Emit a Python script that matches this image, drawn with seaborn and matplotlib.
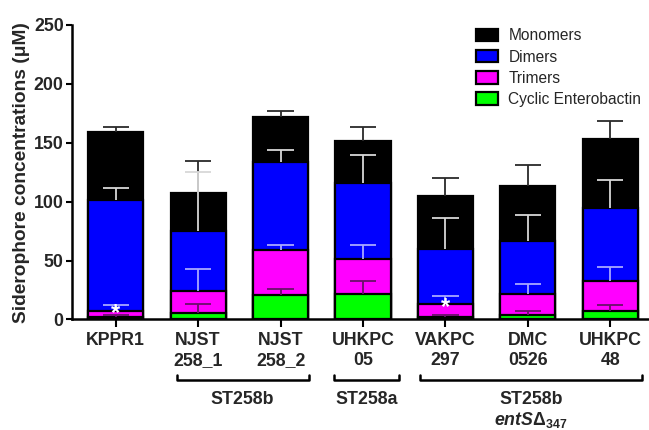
import numpy as np
import pandas as pd
import matplotlib
matplotlib.use("Agg")
import matplotlib.pyplot as plt
from matplotlib.patches import Patch
import seaborn as sns

# --- data (segment heights) ---
strains = ["KPPR1", "NJST\n258_1", "NJST\n258_2", "UHKPC\n05", "VAKPC\n297", "DMC\n0526", "UHKPC\n48"]
cyclic = [2.5, 5.4, 20.7, 21.3, 2.5, 3.7, 7.0]
trimers = [5.1, 18.6, 38.0, 30.3, 10.3, 17.6, 26.0]
dimers = [94.2, 51.0, 74.8, 64.4, 47.0, 45.3, 62.0]
monomers = [57.2, 32.5, 38.5, 35.6, 45.2, 47.0, 58.6]

cyclic_err = [1.0, 7.4, 5.3, 11.7, 1.5, 3.9, 5.0]
trimers_err = [4.3, 19.0, 4.3, 11.9, 7.2, 9.0, 11.5]
dimers_err = [10.2, 50.0, 10.5, 24.0, 26.2, 22.0, 23.0]
monomers_err = [4.5, 27.0, 4.6, 12.2, 15.0, 17.4, 15.0]

series = ["Monomers", "Dimers", "Trimers", "Cyclic Enterobactin"]
colors = ["#000000", "#0000ff", "#ff00ff", "#00ff00"]
# error bar colour depends on what it sits on top of
err_colors = ["#2a2a2a", "#d8d8d8", "#a8a8ff", "#6a106a"]

star_idx = [0, 4]
groups = [("ST258b", 0.74, 2.34), ("ST258a", 2.65, 3.44), ("ST258b", 3.69, 6.38)]

# --- cumulative tops ---
cum_cyc = np.array(cyclic)
cum_tri = cum_cyc + np.array(trimers)
cum_dim = cum_tri + np.array(dimers)
cum_mon = cum_dim + np.array(monomers)

df = pd.DataFrame({"strain": strains, "Monomers": cum_mon, "Dimers": cum_dim,
                   "Trimers": cum_tri, "Cyclic Enterobactin": cum_cyc})

sns.set_style("ticks")
plt.rcParams["font.family"] = ["Liberation Sans", "DejaVu Sans"]
plt.rcParams["mathtext.fontset"] = "custom"
plt.rcParams["mathtext.it"] = "Liberation Sans:italic:bold"
plt.rcParams["mathtext.rm"] = "Liberation Sans:bold"

fig = plt.figure(figsize=(6.49, 4.30), dpi=100)
ax = fig.add_axes([0.111, 0.257, 0.889, 0.685])

for s, c in zip(series, colors):
    sns.barplot(data=df, x="strain", y=s, color=c, saturation=1, width=0.67,
                edgecolor="black", linewidth=1.6, errorbar=None, ax=ax)

# upward-only error bars, one set per segment
x = np.arange(len(strains))
tops = [cum_mon, cum_dim, cum_tri, cum_cyc]
errs = [monomers_err, dimers_err, trimers_err, cyclic_err]
cap = 0.16
for i, (t, e, ec) in enumerate(zip(tops, errs, err_colors)):
    hi = t + np.array(e)
    ax.vlines(x, t, hi, color=ec, lw=1.3, zorder=5 + i)
    ax.hlines(hi, x - cap, x + cap, color=ec, lw=1.3, zorder=5 + i)

for i in star_idx:
    ax.text(x[i], cum_tri[i] - 2.8, "*", color="white", fontsize=17,
            fontweight="bold", ha="center", va="center", zorder=10)

ax.set_xlim(-0.53, 6.47)
ax.set_ylim(0, 250)
ax.set_yticks([0, 50, 100, 150, 200, 250])
ax.set_xlabel("")
ax.set_ylabel("Siderophore concentrations (\u03bcM)", fontsize=13.8, fontweight="bold", labelpad=3)
ax.set_xticks(x)
ax.set_xticklabels(strains, fontsize=12.8, fontweight="bold", linespacing=1.25)
for lab in ax.get_yticklabels():
    lab.set_fontsize(12.8)
    lab.set_fontweight("bold")
ax.tick_params(axis="x", length=6, width=1.5, pad=3, color="black")
ax.tick_params(axis="y", length=4, width=1.5, pad=2, color="black")
sns.despine(ax=ax)
for sp in ["left", "bottom"]:
    ax.spines[sp].set_linewidth(1.8)
    ax.spines[sp].set_color("black")

# group brackets under the tick labels
trans = ax.get_xaxis_transform()
for name, x0, x1 in groups:
    ax.plot([x0, x0, x1, x1], [-0.187, -0.207, -0.207, -0.187], color="black",
            lw=1.8, transform=trans, clip_on=False)
    ax.text((x0 + x1) / 2, -0.272, name, transform=trans, ha="center", va="center",
            fontsize=12.8, fontweight="bold")
ax.text((groups[2][1] + groups[2][2]) / 2, -0.342, r"$entS\Delta_{\mathit{347}}$",
        transform=trans, ha="center", va="center", fontsize=12.8)

handles = [Patch(facecolor=c, edgecolor="black", linewidth=1.6) for c in colors]
fig.legend(handles, series, loc="upper left", bbox_to_anchor=(0.733, 0.934), frameon=False,
           fontsize=11.2, handlelength=1.45, handleheight=0.85, handletextpad=0.65,
           labelspacing=0.4, borderpad=0, borderaxespad=0)

fig.savefig("out.png", dpi=100)
